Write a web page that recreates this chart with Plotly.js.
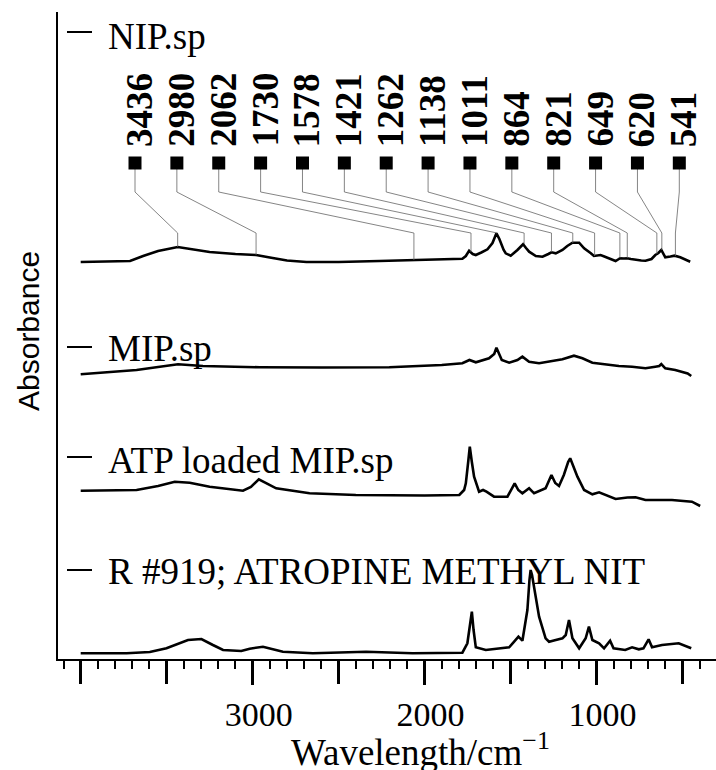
<!DOCTYPE html>
<html><head><meta charset="utf-8">
<script src="https://cdn.plot.ly/plotly-3.0.1.min.js"></script>
<style>html,body{margin:0;padding:0;background:#fff}</style>
</head><body>
<div id="chart" style="width:716px;height:770px"></div>
<script>
// ---- data (wavenumber in cm-1, absorbance in stacked arbitrary units) ----
const seriesNames = ['NIP.sp', 'MIP.sp', 'ATP loaded MIP.sp', 'R #919; ATROPINE METHYL NIT'];

const nipWn  = [4000,3713,3637,3550,3436,3350,3250,3100,2980,2900,2800,2687,2500,2263,2060,1900,1780,1760,1741,1720,1702,1670,1634,1605,1582,1565,1557,1540,1528,1499,1460,1440,1427,1410,1392,1353,1314,1280,1262,1237,1198,1170,1140,1101,1072,1033,1015,976,928,889,870,864,840,822,800,773,740,715,680,658,640,623,610,600,570,546,513,480,455];
const nipAbs = [3.97,3.98,4.03,4.08,4.12,4.10,4.07,4.05,4.04,4.015,3.985,3.97,3.97,3.98,3.99,3.995,4.003,4.03,4.083,4.05,4.04,4.065,4.097,4.16,4.257,4.20,4.16,4.09,4.057,4.033,4.09,4.13,4.147,4.11,4.073,4.03,4.023,4.05,4.067,4.057,4.09,4.13,4.163,4.163,4.107,4.057,4.03,4.04,4.007,3.98,4.00,4.007,4.005,4.007,4.00,3.99,3.985,3.983,4.00,4.04,4.06,4.09,4.05,4.017,4.025,4.033,4.017,3.995,3.973];

const mipWn  = [4000,3675,3550,3434,3289,2960,2600,2205,1900,1780,1739,1702,1625,1595,1582,1570,1551,1508,1460,1431,1392,1334,1257,1198,1131,1082,1024,946,870,793,715,658,635,623,610,600,542,503,470,449];
const mipAbs = [2.847,2.89,2.92,2.947,2.93,2.917,2.915,2.917,2.94,2.957,2.99,2.967,3.007,3.05,3.113,3.06,2.99,2.963,2.99,3.023,2.973,2.957,2.98,2.997,3.033,3.007,2.963,2.947,2.93,2.923,2.907,2.923,2.93,2.95,2.925,2.907,2.89,2.873,2.855,2.83];

const atpWn  = [4000,3675,3550,3453,3366,3250,3056,3010,2964,2920,2863,2669,2400,2000,1798,1770,1760,1745,1737,1725,1712,1683,1660,1640,1596,1518,1495,1476,1455,1431,1392,1363,1296,1275,1262,1240,1218,1190,1165,1153,1135,1111,1072,1024,985,928,889,820,773,715,561,445,397];
const atpAbs = [1.683,1.69,1.73,1.773,1.763,1.723,1.683,1.72,1.797,1.76,1.707,1.657,1.64,1.635,1.64,1.69,1.757,1.99,2.123,1.97,1.823,1.673,1.69,1.673,1.623,1.623,1.69,1.757,1.69,1.657,1.707,1.657,1.707,1.79,1.84,1.76,1.73,1.84,1.97,2.007,1.93,1.823,1.69,1.647,1.667,1.623,1.60,1.615,1.617,1.59,1.59,1.573,1.53];

const refWn  = [4000,3733,3598,3501,3376,3298,3231,3172,3066,3017,2940,2891,2824,2650,2340,2070,1780,1751,1738,1725,1715,1702,1644,1596,1508,1479,1454,1431,1410,1402,1390,1383,1375,1363,1334,1296,1276,1237,1198,1179,1160,1140,1101,1063,1044,1024,985,956,921,901,833,793,754,727,697,677,619,522,483,449];
const refAbs = [0.057,0.057,0.07,0.107,0.19,0.20,0.14,0.09,0.08,0.103,0.123,0.10,0.073,0.057,0.073,0.057,0.063,0.157,0.34,0.473,0.29,0.117,0.09,0.097,0.117,0.173,0.223,0.183,0.39,0.49,0.79,0.89,0.84,0.723,0.423,0.207,0.173,0.19,0.207,0.24,0.39,0.207,0.107,0.207,0.323,0.19,0.157,0.107,0.183,0.107,0.09,0.117,0.097,0.107,0.197,0.117,0.14,0.157,0.13,0.107];

const peakLabels = [3436,2980,2062,1730,1578,1421,1262,1138,1011,864,821,649,620,541];
const peakTipAbs = [4.12,4.04,3.99,4.07,4.26,4.15,4.07,4.16,4.03,4.01,4.01,4.05,4.09,4.03];

const labeledTickVals = [3000, 2000, 1000];
const unlabeledTickVals = [4000, 3500, 2500, 1500, 500];

// ---- layout geometry ----
const W = 716, H = 770;
const mL = 58, mR = 0, mT = 12, mB = 111;
const xRange = [4132, 305];
const yRange = [0, 6.47];
const plotW = W - mL - mR;
const plotH = H - mT - mB;
const pxToWn = px => xRange[0] - (px - mL) * (xRange[0] - xRange[1]) / plotW;
const pyToY = py => yRange[1] - (py - mT) * (yRange[1] - yRange[0]) / plotH;
const pxToPaper = px => (px - mL) / plotW;
const pyToPaper = py => (H - mB - py) / plotH;

const serif = '"Liberation Serif", "Times New Roman", Times, serif';
const black = '#000';

// label slots (evenly spaced along the top)
const slotPx0 = 135, slotStep = 41.87;
const slotWn = peakLabels.map((_, i) => pxToWn(slotPx0 + i * slotStep));
const ySquare = pyToY(163), yKneeTop = pyToY(192), yKneeLow = pyToY(233), yText = pyToY(149);

const leadX = [], leadY = [];
peakLabels.forEach((p, i) => {
  leadX.push(slotWn[i], slotWn[i], p, p, null);
  leadY.push(ySquare, yKneeTop, yKneeLow, peakTipAbs[i], null);
});

const specLine = {color: black, width: 2.6};
const traces = [
  {x: leadX, y: leadY, xaxis: 'x2', mode: 'lines', line: {color: '#666', width: 0.8}, hoverinfo: 'skip', showlegend: false},
  {x: nipWn, y: nipAbs, mode: 'lines', name: seriesNames[0], line: specLine},
  {x: mipWn, y: mipAbs, mode: 'lines', name: seriesNames[1], line: specLine},
  {x: atpWn, y: atpAbs, mode: 'lines', name: seriesNames[2], line: specLine},
  {x: refWn, y: refAbs, mode: 'lines', name: seriesNames[3], line: specLine},
  {x: slotWn, y: slotWn.map(() => ySquare), xaxis: 'x2', mode: 'markers', marker: {symbol: 'square', size: 13, color: black}, hoverinfo: 'skip', showlegend: false}
];

const annotations = [];
peakLabels.forEach((p, i) => {
  annotations.push({x: slotWn[i], y: yText, xref: 'x', yref: 'y', text: String(p), showarrow: false,
    textangle: -90, xanchor: 'center', yanchor: 'bottom', xshift: 4,
    font: {family: serif, size: 37, color: black, weight: 'bold'}});
});
const labelPy = [36, 348, 460, 571];
const dashPy = [32, 347, 457, 570];
const shapes = [];
seriesNames.forEach((n, i) => {
  annotations.push({x: pxToPaper(106), y: pyToY(labelPy[i]), xref: 'paper', yref: 'y', text: n, showarrow: false,
    xanchor: 'left', yanchor: 'middle', font: {family: serif, size: 37, color: black}});
  shapes.push({type: 'line', xref: 'paper', yref: 'y', x0: pxToPaper(67), x1: pxToPaper(92),
    y0: pyToY(dashPy[i]), y1: pyToY(dashPy[i]), line: {color: black, width: 2}});
});
// x axis title
annotations.push({x: pxToPaper(289), y: pyToPaper(775), xref: 'paper', yref: 'paper',
  text: 'Wavelength/cm<sup>\u22121</sup>', showarrow: false, xanchor: 'left', yanchor: 'bottom',
  font: {family: serif, size: 37, color: black}});
// y axis title
annotations.push({x: pxToPaper(28), y: pyToY(331), xref: 'paper', yref: 'y', text: 'Absorbance', showarrow: false,
  textangle: -90, xanchor: 'center', yanchor: 'middle',
  font: {family: '"Liberation Sans", Arial, sans-serif', size: 30, color: black}});

const bigTicks = {ticks: 'outside', ticklen: 24, tickwidth: 3, tickcolor: black};
const layout = {
  width: W, height: H,
  margin: {l: mL, r: mR, t: mT, b: mB, pad: 0},
  paper_bgcolor: '#fff', plot_bgcolor: '#fff',
  showlegend: false,
  xaxis: Object.assign({
    range: xRange, autorange: false,
    tickmode: 'array', tickvals: labeledTickVals,
    showline: true, linewidth: 2, linecolor: black,
    showgrid: false, zeroline: false,
    tickfont: {family: serif, size: 34, color: black},
    ticklabelshift: -6,
    minor: {ticks: 'outside', ticklen: 8, tickwidth: 2, tickcolor: black, tickmode: 'linear', tick0: 0, dtick: 100, showgrid: false}
  }, bigTicks),
  xaxis2: Object.assign({
    range: xRange, autorange: false, overlaying: 'x', anchor: 'y', side: 'bottom',
    tickmode: 'array', tickvals: unlabeledTickVals, showticklabels: false,
    showline: false, showgrid: false, zeroline: false
  }, bigTicks),
  yaxis: {
    range: yRange, autorange: false,
    showline: true, linewidth: 2, linecolor: black,
    showticklabels: false, ticks: '', showgrid: false, zeroline: false
  },
  annotations: annotations,
  shapes: shapes
};

Plotly.newPlot('chart', traces, layout, {displayModeBar: false, staticPlot: true});
</script>
</body></html>
